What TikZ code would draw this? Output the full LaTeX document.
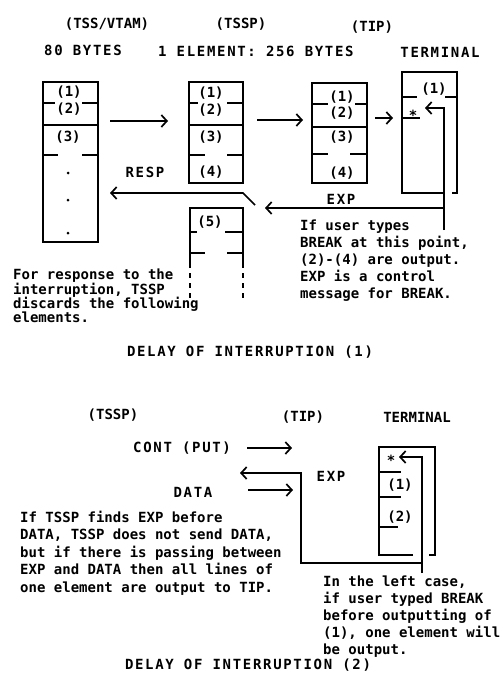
\documentclass[tikz,border=0pt]{standalone}
\usepackage{fontspec}
\newfontfamily\txtfont{DejaVu Sans Mono Bold}
\newfontfamily\spfont{DejaVu Sans Mono Bold}[LetterSpace=12]
\usetikzlibrary{arrows.meta}
\tikzset{
  ln/.style={line width=1.7pt},
  arr/.style={ln,-{Straight Barb[length=5.5pt,width=12pt,line width=1.7pt]}},
  t/.style={font=\txtfont\fontsize{14}{17}\selectfont,inner sep=0pt},
  st/.style={font=\spfont\fontsize{14}{17}\selectfont,inner sep=0pt},
  tl/.style={t,align=left,anchor=west},
}
\begin{document}
\begin{tikzpicture}[x=1pt,y=-1pt]
\useasboundingbox (0,0) rectangle (503,682);
\fill[white] (0,0) rectangle (503,682);
% ---------- headers (1)
\node[t] (hvtam) at (107,24) {(TSS/VTAM)};
\node[t] (htssp) at (241,24) {(TSSP)};
\node[t] (htip) at (372,27) {(TIP)};
\node[st,anchor=west] (h80) at (44,50) {80 BYTES};
\node[st,anchor=west] (helem) at (158,51) {1 ELEMENT: 256 BYTES};
\node[st] (hterm) at (440,52) {TERMINAL};
% ---------- box 1 (TSS/VTAM)
\draw[ln] (43,82) rectangle (98,242);
\draw[ln] (43,103) -- (55,103) (82,103) -- (98,103);
\draw[ln] (43,125) -- (98,125);
\draw[ln] (43,155) -- (58,155) (82,155) -- (98,155);
\node[t] (a1) at (69,92) {(1)};
\node[t] (a2) at (69,109) {(2)};
\node[t] (a3) at (68,137) {(3)};
\fill (68,173) circle (1.5pt) (68,200) circle (1.5pt) (68,233) circle (1.5pt);
% ---------- box 2 (TSSP)
\draw[ln] (189,82) rectangle (243,183);
\draw[ln] (189,103) -- (198,103) (227,103) -- (243,103);
\draw[ln] (189,125) -- (243,125);
\draw[ln] (189,155) -- (205,155) (227,155) -- (243,155);
\node[t] (b1) at (211,93) {(1)};
\node[t] (b2) at (211,110) {(2)};
\node[t] (b3) at (211,137) {(3)};
\node[t] (b4) at (211,172) {(4)};
% ---------- box 3 (TIP)
\draw[ln] (312,83) rectangle (367,183);
\draw[ln] (312,104) -- (328,104) (355,104) -- (367,104);
\draw[ln] (312,127) -- (367,127);
\draw[ln] (312,154) -- (328,154) (350,154) -- (367,154);
\node[t] (c1) at (342,97) {(1)};
\node[t] (c2) at (342,113) {(2)};
\node[t] (c3) at (342,137) {(3)};
\node[t] (c4) at (342,173) {(4)};
% ---------- terminal (1)
\draw[ln] (443,193) -- (402,193) -- (402,72) -- (457,72) -- (457,193) -- (452,193);
\draw[ln] (402,97) -- (417,97) (445,97) -- (457,97);
\node[t] (d1) at (434,89) {(1)};
\node[t] (dstar) at (413,115) {*};
\draw[ln] (402,118) -- (420,118);
% ---------- connectors (1)
\coordinate (p1a) at (110,121); \coordinate (p1b) at (168,121);
\coordinate (p2a) at (257,120); \coordinate (p2b) at (303,120);
\coordinate (p3a) at (375,118); \coordinate (p3b) at (393,118);
\draw[arr] (p1a) -- (p1b);
\draw[arr] (p2a) -- (p2b);
\draw[arr] (p3a) -- (p3b);
\coordinate (brk) at (444,230); \coordinate (brktip) at (425,108);
\draw[arr] (brk) |- (brktip);
\coordinate (expj) at (444,208); \coordinate (exptip) at (265,208);
\draw[arr] (expj) -- (exptip);
\node[st] (lexp) at (341,199) {EXP};
\coordinate (resp0) at (255,205); \coordinate (resp1) at (243,193); \coordinate (resptip) at (110,193);
\draw[arr] (resp0) -- (resp1) -- (resptip);
\node[st] (lresp) at (145,172) {RESP};
% ---------- box 5
\draw[ln] (190,268) -- (190,208) -- (243,208) -- (243,268);
\draw[ln,dash pattern=on 5pt off 5pt] (190,273) -- (190,302) (243,273) -- (243,302);
\draw[ln] (190,232) -- (197,232) (225,232) -- (243,232);
\draw[ln] (190,253) -- (205,253) (227,253) -- (243,253);
\node[t] (e5) at (210,222) {(5)};
% ---------- notes (1)
\node[tl,font=\txtfont\fontsize{14}{14.3}\selectfont] (note1) at (13,296)
  {For response to the\\interruption, TSSP\\discards the following\\elements.};
\node[tl] (note2) at (300,261)
  {If user types\\BREAK at this point,\\(2)-(4) are output.\\EXP is a control\\message for BREAK.};
\node[st] (cap1) at (250,352) {DELAY OF INTERRUPTION (1)};
% ---------- part (2)
\node[t] (btssp) at (113,415) {(TSSP)};
\node[t] (btip) at (303,417) {(TIP)};
\node[t] (bterm) at (417,417) {TERMINAL};
\node[st,anchor=west] (cont) at (133,448) {CONT (PUT)};
\node[st] (data) at (193,492) {DATA};
\node[st] (bexp) at (331,476) {EXP};
\coordinate (c0) at (247,448); \coordinate (c1) at (292,448);
\draw[arr] (c0) -- (c1);
\coordinate (dd0) at (248,490); \coordinate (dd1) at (293,490);
\draw[arr] (dd0) -- (dd1);
\coordinate (x0) at (422,563); \coordinate (x1) at (301,473); \coordinate (xtip) at (240,473);
\draw[arr] (x0) -| (x1) -- (xtip);
% terminal (2)
\draw[ln] (413,555) -- (379,555) -- (379,447) -- (435,447) -- (435,555) -- (429,555);
\draw[ln] (379,472) -- (401,472) (379,497) -- (401,497) (379,527) -- (398,527);
\node[t] (fstar) at (391,460) {*};
\node[t] (f1) at (400,485) {(1)};
\node[t] (f2) at (400,517) {(2)};
\coordinate (y0) at (422,573); \coordinate (ytip) at (399,457);
\draw[arr] (y0) |- (ytip);
% notes (2)
\node[tl,font=\txtfont\fontsize{14}{17.6}\selectfont] (note3) at (20,553)
  {If TSSP finds EXP before\\DATA, TSSP does not send DATA,\\but if there is passing between\\EXP and DATA then all lines of\\one element are output to TIP.};
\node[tl] (note4) at (323,617)
  {In the left case,\\if user typed BREAK\\before outputting of\\(1), one element will\\be output.};
\node[st] (cap2) at (248,665) {DELAY OF INTERRUPTION (2)};
\end{tikzpicture}
\end{document}
